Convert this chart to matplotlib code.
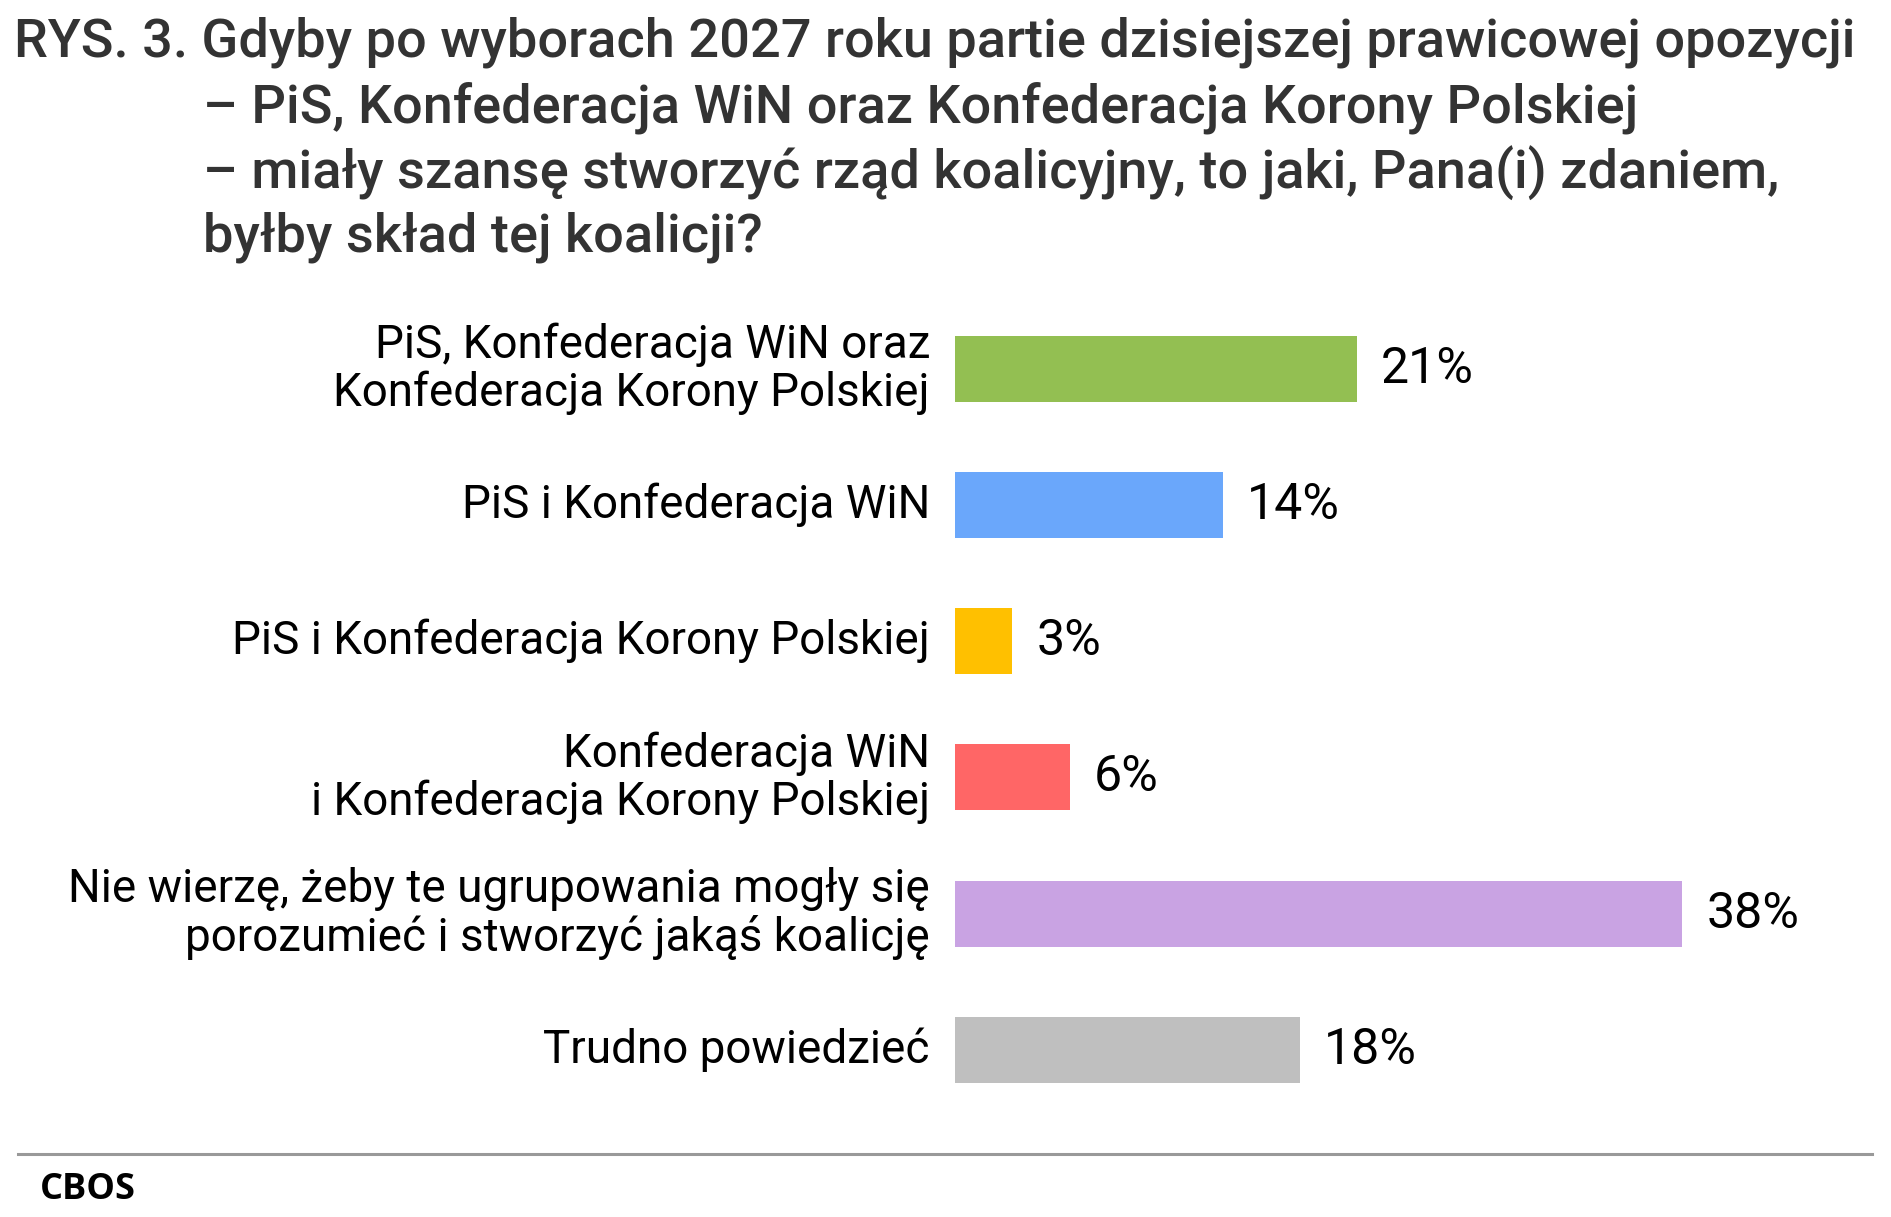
import matplotlib
matplotlib.use("Agg")
import matplotlib.pyplot as plt
from matplotlib.lines import Line2D

categories = [
    "PiS, Konfederacja WiN oraz\nKonfederacja Korony Polskiej",
    "PiS i Konfederacja WiN",
    "PiS i Konfederacja Korony Polskiej",
    "Konfederacja WiN\ni Konfederacja Korony Polskiej",
    "Nie wierzę, żeby te ugrupowania mogły się\nporozumieć i stworzyć jakąś koalicję",
    "Trudno powiedzieć",
]
values = [21, 14, 3, 6, 38, 18]
colors = ["#93BF52", "#6AA7FB", "#FFC000", "#FF6666", "#C9A3E3", "#BFBFBF"]

title_lines = [
    "RYS. 3. Gdyby po wyborach 2027 roku partie dzisiejszej prawicowej opozycji",
    "– PiS, Konfederacja WiN oraz Konfederacja Korony Polskiej",
    "– miały szansę stworzyć rząd koalicyjny, to jaki, Pana(i) zdaniem,",
    "byłby skład tej koalicji?",
]
source = "CBOS"

W, H = 1891, 1217
fig = plt.figure(figsize=(W / 100, H / 100), dpi=100)
fig.patch.set_facecolor("white")

ax = fig.add_axes([955 / W, 1 - 1118 / H, 765.6 / W, 817.5 / H])
y = list(range(len(values)))
ax.barh(y, values, height=0.485, color=colors)
ax.set_xlim(0, 40)
ax.set_ylim(len(values) - 0.5, -0.5)
ax.axis("off")

for yi, v, lab in zip(y, values, categories):
    ax.annotate(f"{v}%", (v, yi), xytext=(24, 0), textcoords="offset pixels",
                ha="left", va="center", fontsize=36, family="Roboto", color="#000000")
    ax.annotate(lab, (0, yi), xytext=(-25, 0), textcoords="offset pixels",
                ha="right", va="center", fontsize=33, family="Roboto", color="#000000",
                linespacing=1.1)

# Title
tx = [14, 203, 203, 203]
ty = [42, 108, 173, 237]
for t, xx, yy in zip(title_lines, tx, ty):
    fig.text(xx / W, 1 - yy / H, t, ha="left", va="center", fontsize=39,
             family="Roboto", fontweight="medium", color="#333333")

# footer line and source
fig.add_artist(Line2D([18 / W, 1872 / W], [1 - 1154 / H, 1 - 1154 / H],
                      color="#999999", linewidth=2.2))
fig.text(40 / W, 1 - 1190 / H, source, ha="left", va="center", fontsize=26,
         family="Open Sans", fontweight="bold", color="#000000")

fig.savefig("out.png", dpi=100, facecolor="white")
